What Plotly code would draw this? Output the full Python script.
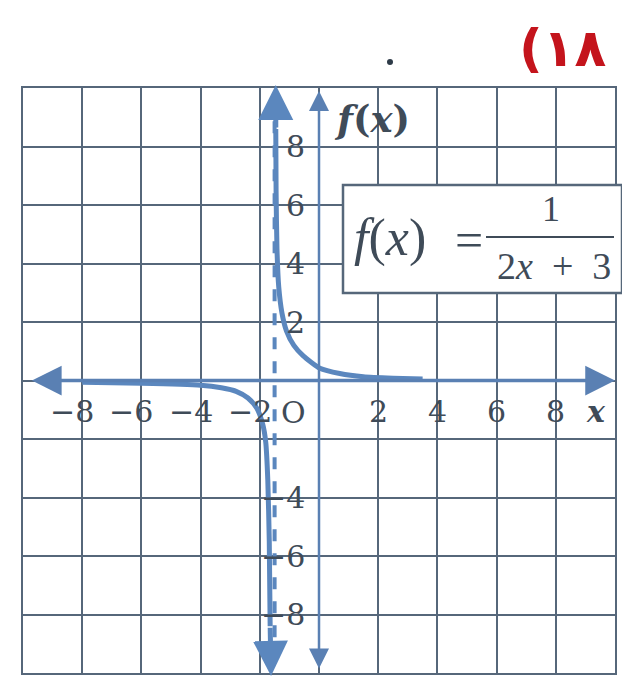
import plotly.graph_objects as go

# ---- data ----
upper_x = [-1.46, -1.45, -1.42, -1.36, -1.25, -1.1, -0.85, -0.54, 0.03, 0.7, 1.5, 2.5, 3.5]
upper_y = [8.6, 6.5, 4.5, 3.2, 2.3, 1.7, 1.2, 0.85, 0.42, 0.24, 0.13, 0.08, 0.05]
lower_x = [-8.0, -6.0, -4.0, -3.3, -2.8, -2.4, -2.1, -1.9, -1.8, -1.73, -1.68, -1.65]
lower_y = [-0.06, -0.09, -0.16, -0.25, -0.37, -0.6, -0.95, -1.5, -2.1, -3.4, -5.5, -8.4]
asymptote_x = -1.5
x_ticks = [-8, -6, -4, -2, 2, 4, 6, 8]
y_ticks = [8, 6, 4, 2, -4, -6, -8]
minus = "\u2212"

BLUE = "#5b87be"
AXBLUE = "#5a80b3"
GRID = "#56677a"
TEXT = "#3f4b58"
SERIF = "DejaVu Serif"

fig = go.Figure()

fig.add_trace(go.Scatter(x=upper_x, y=upper_y, mode="lines",
                         line=dict(color=BLUE, width=5, shape="spline", smoothing=0.6),
                         hoverinfo="skip", showlegend=False))
fig.add_trace(go.Scatter(x=lower_x, y=lower_y, mode="lines",
                         line=dict(color=BLUE, width=5, shape="spline", smoothing=0.6),
                         hoverinfo="skip", showlegend=False))

anns = []
# axes with arrows
anns.append(dict(x=10.0, y=0, ax=-9.75, ay=0, xref="x", yref="y", axref="x", ayref="y",
                 text="", showarrow=True, arrowside="end+start", arrowhead=2,
                 arrowsize=1.7, arrowwidth=3.5, arrowcolor=AXBLUE))
anns.append(dict(x=0, y=9.9, ax=0, ay=-9.9, xref="x", yref="y", axref="x", ayref="y",
                 text="", showarrow=True, arrowside="end+start", arrowhead=2,
                 arrowsize=1.6, arrowwidth=2.5, arrowcolor=AXBLUE))
# curve arrow heads
anns.append(dict(x=upper_x[0], y=10.1, ax=upper_x[0], ay=upper_y[0], xref="x", yref="y",
                 axref="x", ayref="y", text="", showarrow=True, arrowhead=2,
                 arrowsize=1.4, arrowwidth=5, arrowcolor=BLUE))
anns.append(dict(x=-1.62, y=-10.1, ax=lower_x[-1], ay=lower_y[-1], xref="x", yref="y",
                 axref="x", ayref="y", text="", showarrow=True, arrowhead=2,
                 arrowsize=1.4, arrowwidth=5, arrowcolor=BLUE))

lab_font = dict(family=SERIF, size=30, color=TEXT)
for t in x_ticks:
    txt = (minus + str(abs(t))) if t < 0 else str(t)
    anns.append(dict(x=t, y=-1.05, xref="x", yref="y", text=txt, showarrow=False,
                     font=lab_font, xanchor="center", yanchor="middle",
                     xshift=(-10 if t < 0 else 0)))
for t in y_ticks:
    txt = (minus + str(abs(t))) if t < 0 else str(t)
    anns.append(dict(x=-0.8, y=t, xref="x", yref="y", text=txt, showarrow=False,
                     font=lab_font, xanchor="right" if t < 0 else "center",
                     yanchor="middle", xshift=(12 if t < 0 else 0)))
anns.append(dict(x=-0.85, y=-1.1, xref="x", yref="y", text="O", showarrow=False,
                 font=lab_font, xanchor="center", yanchor="middle"))
anns.append(dict(x=9.35, y=-1.05, xref="x", yref="y", text="<b><i>x</i></b>", showarrow=False,
                 font=dict(family=SERIF, size=30, color=TEXT), xanchor="center", yanchor="middle"))
anns.append(dict(x=1.8, y=8.95, xref="x", yref="y", text="<b><i>f</i>(<i>x</i>)</b>",
                 showarrow=False, font=dict(family=SERIF, size=37, color=TEXT),
                 xanchor="center", yanchor="middle"))

# equation box text (paper coords relative to plot area: x 23..615, y 88..673 on page)
def px(xp):
    return (xp - 23) / 592

def py(yp):
    return (673 - yp) / 585

anns.append(dict(x=px(390), y=py(238), xref="paper", yref="paper",
                 text="<i>f</i>(<i>x</i>)", showarrow=False,
                 font=dict(family="Liberation Serif", size=52, color=TEXT),
                 xanchor="center", yanchor="middle"))
anns.append(dict(x=px(469), y=py(240), xref="paper", yref="paper",
                 text="=", showarrow=False,
                 font=dict(family="Liberation Serif", size=50, color=TEXT),
                 xanchor="center", yanchor="middle"))
anns.append(dict(x=px(551), y=py(209), xref="paper", yref="paper",
                 text="1", showarrow=False,
                 font=dict(family="Liberation Serif", size=36, color=TEXT),
                 xanchor="center", yanchor="middle"))
anns.append(dict(x=px(554), y=py(266), xref="paper", yref="paper",
                 text="2<i>x</i>\u2002+\u20023", showarrow=False,
                 font=dict(family="Liberation Serif", size=38, color=TEXT),
                 xanchor="center", yanchor="middle"))

# title number and dot
anns.append(dict(x=px(562), y=py(48), xref="paper", yref="paper",
                 text="<b>(\u0661\u0668</b>", showarrow=False,
                 font=dict(family="DejaVu Sans", size=52, color="#c4141c"),
                 xanchor="center", yanchor="middle"))

shapes = [
    dict(type="line", xref="x", yref="y", x0=asymptote_x, x1=asymptote_x, y0=-9.6, y1=9.6,
         line=dict(color=BLUE, width=4, dash="dash"), layer="above"),
    dict(type="rect", xref="paper", yref="paper",
         x0=px(343), x1=px(622), y0=py(293), y1=py(185),
         fillcolor="white", line=dict(color=GRID, width=2.5), layer="above"),
    dict(type="line", xref="paper", yref="paper",
         x0=px(486), x1=px(614), y0=py(237), y1=py(237),
         line=dict(color=TEXT, width=2), layer="above"),
    dict(type="circle", xref="paper", yref="paper",
         x0=px(387), x1=px(393), y0=py(65), y1=py(59),
         fillcolor="#2e3b48", line=dict(width=0)),
]

axis_common = dict(range=[-10, 10], dtick=2, tick0=0, showgrid=True, gridcolor=GRID,
                   gridwidth=1.5, zeroline=False, showticklabels=False, ticks="",
                   showline=True, linecolor=GRID, linewidth=1.5, mirror=True, fixedrange=True)

# page body has an 8px margin, so the figure is placed at (8, 8)
fig.update_layout(
    width=622, height=669,
    margin=dict(l=15, r=15, t=80, b=4),
    paper_bgcolor="white", plot_bgcolor="white",
    xaxis=axis_common, yaxis=axis_common,
    annotations=anns, shapes=shapes, showlegend=False,
)

fig.write_html("out.html")
